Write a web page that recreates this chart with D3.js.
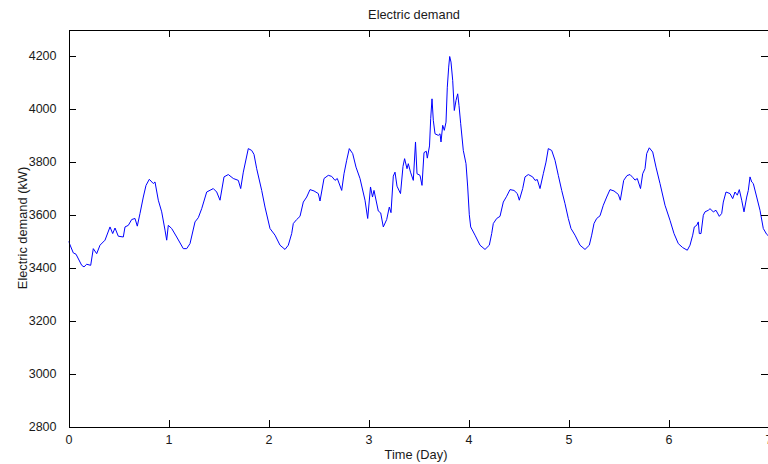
<!DOCTYPE html>
<html>
<head>
<meta charset="utf-8">
<script src="https://cdn.jsdelivr.net/npm/d3@7"></script>
<style>
  html, body { margin: 0; padding: 0; background: #fff; }
  svg { display: block; }
  text { font-family: "Liberation Sans", Arial, Helvetica, sans-serif; fill: #1a1a1a; }
</style>
</head>
<body>
<svg id="chart" width="768" height="464"></svg>
<script>
// ---- data ----
const chartTitle = "Electric demand";
const xLabel = "Time (Day)";
const yLabel = "Electric demand (kW)";
const xTicks = [0, 1, 2, 3, 4, 5, 6, 7];
const yTicks = [2800, 3000, 3200, 3400, 3600, 3800, 4000, 4200];
const xDomain = [0, 7];
const yDomain = [2800, 4300];

const timeDays = [
  0.000, 0.048, 0.075, 0.132, 0.155, 0.182, 0.222, 0.248, 0.282, 0.315,
  0.365, 0.415, 0.442, 0.465, 0.498, 0.548, 0.565, 0.598, 0.632, 0.665,
  0.688, 0.715, 0.748, 0.775, 0.808, 0.848, 0.865, 0.898, 0.932, 0.965,
  0.982, 0.998, 1.032, 1.082, 1.148, 1.182, 1.215, 1.265, 1.298, 1.332,
  1.382, 1.448, 1.482, 1.515, 1.555, 1.598, 1.648, 1.698, 1.722, 1.748,
  1.798, 1.832, 1.855, 1.882, 1.932, 1.965, 2.015, 2.065, 2.115, 2.165,
  2.198, 2.232, 2.248, 2.282, 2.315, 2.348, 2.382, 2.415, 2.455, 2.498,
  2.515, 2.555, 2.598, 2.632, 2.665, 2.688, 2.732, 2.755, 2.782, 2.808,
  2.842, 2.875, 2.915, 2.965, 2.992, 3.020, 3.040, 3.055, 3.098, 3.122,
  3.148, 3.182, 3.208, 3.225, 3.248, 3.265, 3.285, 3.320, 3.345, 3.361,
  3.385, 3.398, 3.420, 3.448, 3.470, 3.485, 3.515, 3.535, 3.555, 3.578,
  3.588, 3.610, 3.622, 3.635, 3.648, 3.665, 3.698, 3.715, 3.725, 3.742,
  3.758, 3.775, 3.788, 3.802, 3.812, 3.825, 3.842, 3.858, 3.875, 3.892,
  3.905, 3.922, 3.948, 3.975, 3.992, 4.008, 4.022, 4.065, 4.115, 4.165,
  4.208, 4.232, 4.248, 4.282, 4.315, 4.348, 4.382, 4.415, 4.455, 4.488,
  4.508, 4.542, 4.565, 4.598, 4.642, 4.665, 4.688, 4.715, 4.748, 4.775,
  4.798, 4.832, 4.865, 4.898, 4.932, 4.965, 4.998, 5.025, 5.065, 5.115,
  5.165, 5.208, 5.232, 5.255, 5.282, 5.315, 5.348, 5.382, 5.415, 5.455,
  5.498, 5.518, 5.552, 5.585, 5.615, 5.645, 5.665, 5.688, 5.720, 5.742,
  5.765, 5.782, 5.808, 5.842, 5.875, 5.915, 5.965, 6.015, 6.055, 6.098,
  6.142, 6.188, 6.215, 6.242, 6.258, 6.282, 6.298, 6.308, 6.325, 6.348,
  6.365, 6.398, 6.415, 6.448, 6.475, 6.508, 6.532, 6.548, 6.575, 6.615,
  6.642, 6.665, 6.688, 6.708, 6.732, 6.755, 6.782, 6.798, 6.815, 6.832,
  6.848, 6.882, 6.915, 6.948, 6.982, 7.000
];

const demandKW = [
  3500, 3456, 3451, 3409, 3403, 3413, 3409, 3472, 3453, 3485,
  3504, 3554, 3529, 3550, 3519, 3516, 3554, 3560, 3582, 3586,
  3557, 3605, 3667, 3711, 3734, 3718, 3724, 3655, 3611, 3542,
  3504, 3560, 3548, 3516, 3472, 3472, 3491, 3573, 3589, 3623,
  3686, 3699, 3686, 3655, 3743, 3752, 3737, 3730, 3699, 3761,
  3850, 3843, 3828, 3774, 3692, 3629, 3548, 3523, 3485, 3469,
  3485, 3529, 3567, 3582, 3594, 3648, 3667, 3695, 3690, 3680,
  3652, 3737, 3749, 3745, 3730, 3737, 3692, 3755, 3806, 3850,
  3831, 3780, 3737, 3655, 3586, 3705, 3667, 3692, 3614, 3607,
  3554, 3582, 3629, 3608, 3746, 3761, 3708, 3680, 3783, 3812,
  3774, 3793, 3761, 3730, 3875, 3755, 3749, 3711, 3835, 3840,
  3814, 3860, 3963, 4038, 3957, 3906, 3900, 3906, 3875, 3938,
  3919, 3950, 4082, 4158, 4198, 4177, 4108, 3994, 4032, 4057,
  4013, 3944, 3843, 3793, 3705, 3600, 3554, 3523, 3485, 3469,
  3485, 3529, 3567, 3586, 3594, 3648, 3670, 3695, 3692, 3680,
  3655, 3699, 3743, 3752, 3743, 3730, 3733, 3699, 3755, 3799,
  3850, 3843, 3806, 3749, 3692, 3642, 3586, 3548, 3523, 3485,
  3469, 3485, 3523, 3567, 3586, 3596, 3636, 3667, 3695, 3690,
  3677, 3655, 3730, 3748, 3752, 3740, 3731, 3737, 3699, 3755,
  3774, 3831, 3853, 3837, 3780, 3718, 3636, 3579, 3529, 3491,
  3476, 3466, 3485, 3523, 3554, 3560, 3573, 3529, 3529, 3598,
  3611, 3617, 3623, 3611, 3617, 3594, 3605, 3648, 3686, 3680,
  3661, 3686, 3674, 3695, 3655, 3611, 3667, 3692, 3743, 3724,
  3718, 3667, 3617, 3548, 3526, 3520
];

// ---- layout ----
const plotLeft = 68.5, plotRight = 768.5, plotTop = 29.5, plotBottom = 426.5;
const tickLen = 7;

const svg = d3.select("#chart");
const x = d3.scaleLinear().domain(xDomain).range([plotLeft, plotRight]);
const y = d3.scaleLinear().domain(yDomain).range([plotBottom, plotTop]);

const points = timeDays.map((t, i) => ({ t, v: demandKW[i] }));

// line
const clipId = "plotclip";
svg.append("clipPath").attr("id", clipId)
  .append("rect").attr("x", plotLeft).attr("y", plotTop)
  .attr("width", plotRight - plotLeft).attr("height", plotBottom - plotTop);

svg.append("path")
  .datum(points)
  .attr("clip-path", `url(#${clipId})`)
  .attr("fill", "none")
  .attr("stroke", "#0000ff")
  .attr("stroke-width", 1)
  .attr("stroke-linejoin", "round")
  .attr("d", d3.line().x(d => x(d.t)).y(d => y(d.v)));

// axes (MATLAB-style: inward ticks on all sides, box)
const fontSize = "12.5px";
const bottomAxis = d3.axisBottom(x).tickValues(xTicks).tickSizeInner(-tickLen).tickSizeOuter(0).tickPadding(9).tickFormat(d3.format("d"));
const topAxis = d3.axisTop(x).tickValues(xTicks).tickSizeInner(-tickLen).tickSizeOuter(0).tickFormat("");
const leftAxis = d3.axisLeft(y).tickValues(yTicks).tickSizeInner(-tickLen).tickSizeOuter(0).tickPadding(12).tickFormat(d3.format("d"));
const rightAxis = d3.axisRight(y).tickValues(yTicks).tickSizeInner(-tickLen).tickSizeOuter(0).tickFormat("");

function styleAxis(g) {
  g.selectAll("path.domain").attr("stroke", "#000").attr("shape-rendering", "crispEdges");
  g.selectAll(".tick line").attr("stroke", "#000").attr("shape-rendering", "crispEdges");
  g.selectAll(".tick text").attr("fill", "#1a1a1a")
    .style("font-family", '"Liberation Sans", Arial, sans-serif').style("font-size", fontSize);
}

svg.append("g").attr("transform", `translate(0,${plotBottom})`).call(bottomAxis).call(styleAxis);
svg.append("g").attr("transform", `translate(0,${plotTop})`).call(topAxis).call(styleAxis);
svg.append("g").attr("transform", `translate(${plotLeft},0)`).call(leftAxis).call(styleAxis);
svg.append("g").attr("transform", `translate(${plotRight - 1},0)`).call(rightAxis).call(styleAxis);

// titles
svg.append("text")
  .attr("x", 414).attr("y", 19.3)
  .attr("text-anchor", "middle")
  .style("font-size", "12.8px")
  .text(chartTitle);

svg.append("text")
  .attr("x", 416).attr("y", 459)
  .attr("text-anchor", "middle")
  .style("font-size", "12.8px")
  .text(xLabel);

svg.append("text")
  .attr("transform", `translate(26.5,${(plotTop + plotBottom) / 2}) rotate(-90)`)
  .attr("text-anchor", "middle")
  .style("font-size", "12.8px")
  .text(yLabel);
</script>
</body>
</html>
